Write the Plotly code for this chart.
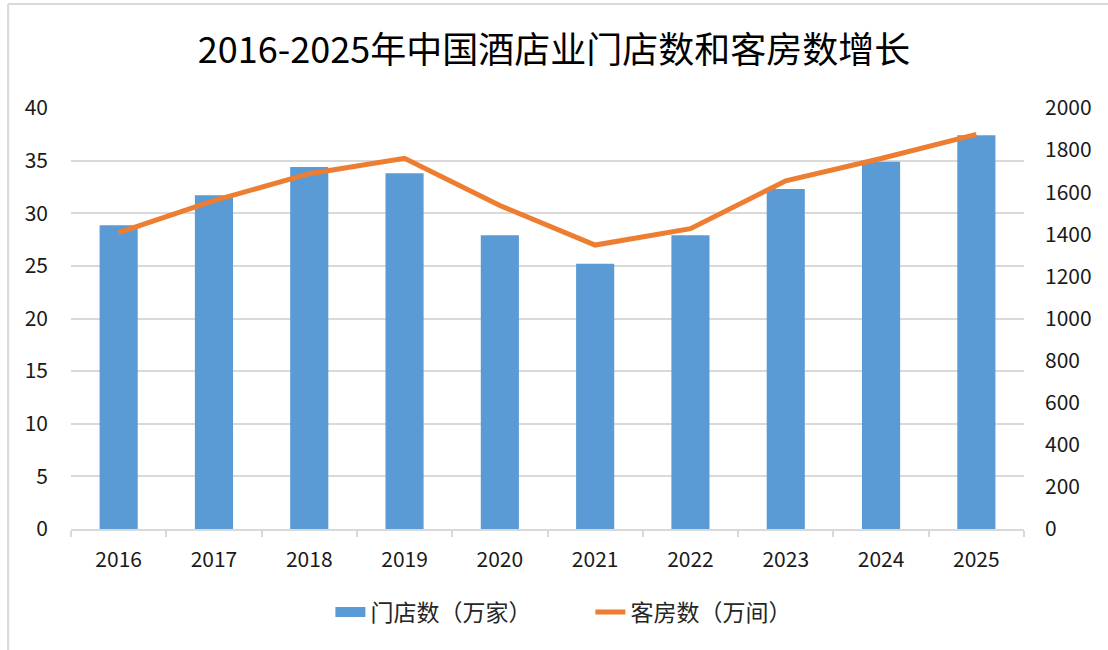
import plotly.graph_objects as go

years = ["2016", "2017", "2018", "2019", "2020", "2021", "2022", "2023", "2024", "2025"]
stores = [28.85, 31.7, 34.4, 33.8, 27.9, 25.2, 27.9, 32.3, 34.9, 37.4]
rooms = [1408, 1560, 1688, 1761, 1537, 1349, 1427, 1654, 1760, 1875]

FONT = "Noto Sans CJK SC"
BLUE = "#5B9BD5"
ORANGE = "#ED7D31"

fig = go.Figure()
fig.add_trace(go.Bar(
    x=years, y=stores, name="门店数（万家）",
    marker=dict(color=BLUE, line=dict(width=0)),
    width=0.4, yaxis="y", showlegend=False,
))
# legend-only proxy so the bar key is drawn as a wide block like the original
fig.add_trace(go.Scatter(
    x=[None], y=[None], name="门店数（万家）", mode="lines",
    line=dict(color=BLUE, width=14), yaxis="y", showlegend=True,
))
fig.add_trace(go.Scatter(
    x=years, y=rooms, name="客房数（万间）", mode="lines",
    line=dict(color=ORANGE, width=5), yaxis="y2",
))

fig.update_layout(
    width=1108, height=650,
    paper_bgcolor="white", plot_bgcolor="white",
    margin=dict(l=71, r=84, t=108, b=121),
    font=dict(family=FONT, size=21, color="#1a1a1a"),
    title=dict(text="2016-2025年中国酒店业门店数和客房数增长", x=0.5, xanchor="center",
               y=0.923, yanchor="middle", font=dict(size=36, color="#000000", family=FONT)),
    xaxis=dict(
        type="category", showgrid=False, showline=True, linecolor="#d9d9d9", linewidth=1.5,
        ticks="outside", tickson="boundaries", ticklen=6, tickcolor="#d9d9d9", tickwidth=1.5,
        tickfont=dict(size=21), range=[-0.5, 9.5], ticklabelstandoff=11,
    ),
    yaxis=dict(
        range=[0, 40], dtick=5, showgrid=True, gridcolor="#d9d9d9", gridwidth=1.5,
        zeroline=False, showline=False, ticks="", ticklabelstandoff=22, tickfont=dict(size=21),
    ),
    yaxis2=dict(
        range=[0, 2000], dtick=200, overlaying="y", side="right", showgrid=False,
        zeroline=False, showline=False, ticks="", ticklabelstandoff=20, tickfont=dict(size=21),
    ),
    legend=dict(orientation="h", x=0.545, xanchor="center", y=-0.197, yanchor="middle",
                font=dict(size=23, color="#262626"), tracegroupgap=0,
                entrywidth=215, entrywidthmode="pixels"),
    bargap=0.6,
    showlegend=True,
    shapes=[
        dict(type="line", xref="paper", yref="paper", x0=-0.066, x1=1.1, y0=1.247, y1=1.247,
             line=dict(color="#d9d9d9", width=2), layer="below"),
        dict(type="line", xref="paper", yref="paper", x0=-0.066, x1=-0.066, y0=-0.3, y1=1.247,
             line=dict(color="#d9d9d9", width=2), layer="below"),
    ],
)

fig.write_html("out.html", config={"displayModeBar": False},
               post_script="document.body.style.margin='0';")
